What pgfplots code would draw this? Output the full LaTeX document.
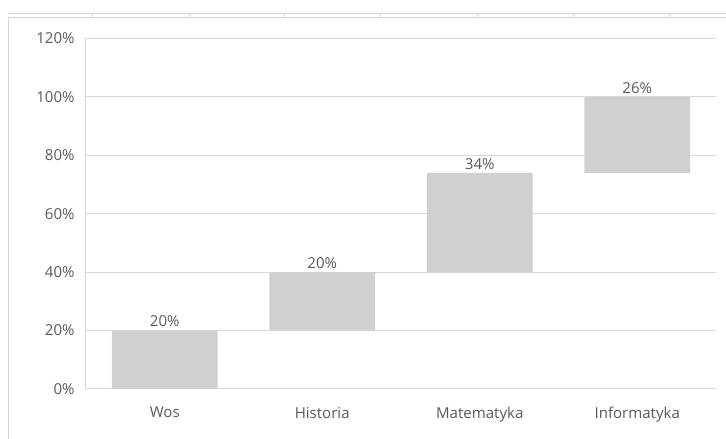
\documentclass[border=0pt]{standalone}
\usepackage{pgfplots}
\pgfplotsset{compat=1.18}
\usepackage{fontspec}
\setmainfont{Open Sans}
\definecolor{txtc}{HTML}{595959}
\definecolor{gridc}{HTML}{D9D9D9}
\definecolor{barc}{HTML}{D0D0D0}
\definecolor{sheetc}{HTML}{D4D4D4}
\begin{document}
\begin{tikzpicture}[x=1pt,y=1pt]
\path[use as bounding box] (0,0) rectangle (544.5,329.25);
% spreadsheet frame
\draw[sheetc,line width=0.6pt] (6,319.5) -- (544.5,319.5);
\draw[sheetc,line width=0.6pt] (6,316.5) -- (544.5,316.5);
\draw[sheetc,line width=0.6pt] (6,316.5) -- (6,0);
\foreach \xx in {92.6,188.9,284.7,380.6,476.9,573.1,669} {
  \draw[sheetc,line width=0.6pt] (\xx*0.75,316.5) -- (\xx*0.75,319.5);
}
\begin{axis}[
  at={(64.5pt,37.5pt)}, anchor=south west,
  scale only axis, width=472.5pt, height=262.9pt,
  ybar stacked, bar width=0.673,
  xmin=-0.5, xmax=3.5, ymin=0, ymax=120,
  xtick={0,1,2,3}, xticklabels={Wos,Historia,Matematyka,Informatyka},
  ytick={0,20,40,60,80,100,120},
  yticklabel={\pgfmathprintnumber{\tick}\%},
  /pgf/number format/assume math mode=true,
  ymajorgrids, xmajorgrids=false, grid style={draw=gridc, line width=0.75pt},
  axis line style={draw=gridc, line width=0.75pt},
  axis x line*=bottom, axis y line*=left,
  major tick length=0pt,
  tick label style={font=\fontsize{11.3}{13}\selectfont, text=txtc},
  yticklabel style={xshift=-5pt},
  xticklabel style={yshift=-10pt},
  clip=false,
]
\addplot[draw=none, fill=none] coordinates {(0,0) (1,20) (2,40) (3,74)};
\addplot[draw=none, fill=barc, point meta=explicit symbolic,
  nodes near coords={\pgfplotspointmeta\%},
  every node near coord/.append style={font=\fontsize{11.3}{13}\selectfont, text=txtc,
    anchor=south, inner sep=2.5pt, yshift=\pgfplotspointmeta*1.09542pt}]
  coordinates {(0,20) [20] (1,20) [20] (2,34) [34] (3,26) [26]};
\end{axis}
\end{tikzpicture}
\end{document}
